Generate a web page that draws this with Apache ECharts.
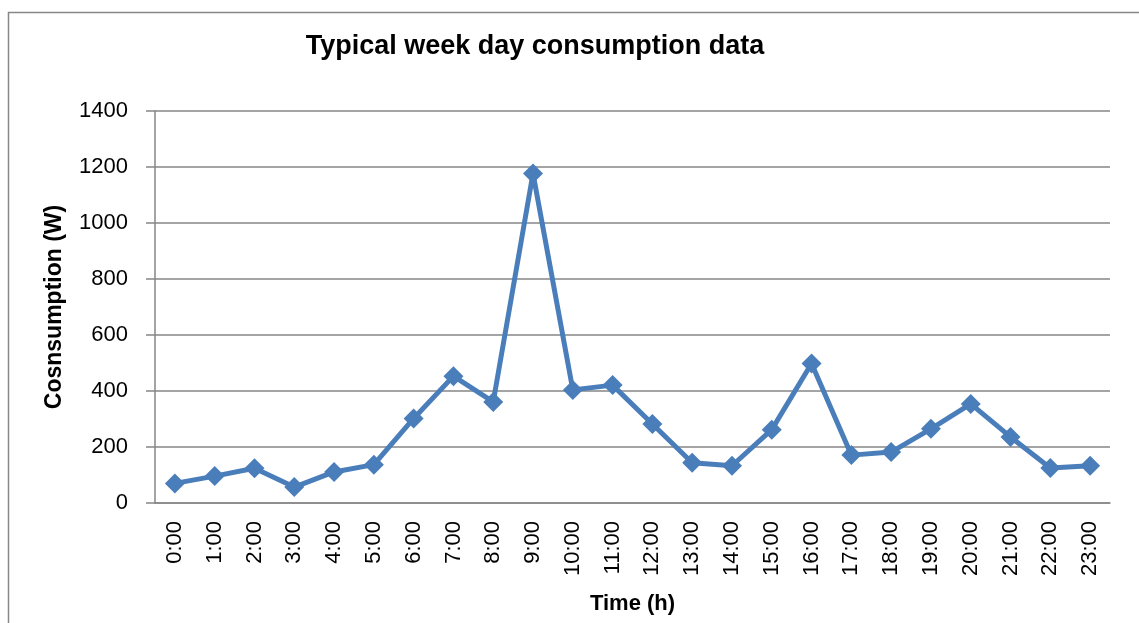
<!DOCTYPE html>
<html>
<head>
<meta charset="utf-8">
<script src="https://cdn.jsdelivr.net/npm/echarts@6/dist/echarts.min.js"></script>
<style>
html,body{margin:0;padding:0;background:#fff;}
#chart{width:1139px;height:623px;}
</style>
</head>
<body>
<div id="chart"></div>
<script>
const categories = ["0:00","1:00","2:00","3:00","4:00","5:00","6:00","7:00","8:00","9:00","10:00","11:00","12:00","13:00","14:00","15:00","16:00","17:00","18:00","19:00","20:00","21:00","22:00","23:00"];
const consumption = [70, 96, 124, 57, 111, 137, 302, 453, 361, 1177, 404, 421, 282, 144, 133, 262, 498, 171, 182, 265, 354, 236, 125, 133];
const titleText = "Typical week day consumption data";
const xName = "Time (h)";
const yName = "Cosnsumption (W)";

const chart = echarts.init(document.getElementById('chart'));
chart.setOption({
  animation: false,
  backgroundColor: '#fff',
  graphic: [{
    type: 'rect', left: 6, top: 10, silent: true,
    shape: {width: 1150, height: 640},
    style: {fill: 'none', stroke: '#888', lineWidth: 1.5}
  }],
  title: {
    text: titleText, left: 530, top: 28, textAlign: 'center',
    textStyle: {fontFamily: 'Liberation Sans', fontWeight: 'bold', fontSize: 27, color: '#000'}
  },
  grid: {left: 155, right: 29, top: 111, bottom: 120, containLabel: false},
  xAxis: {
    type: 'category', data: categories, boundaryGap: true,
    name: xName, nameLocation: 'middle', nameGap: 90,
    nameTextStyle: {fontFamily: 'Liberation Sans', fontWeight: 'bold', fontSize: 22, color: '#000'},
    axisLine: {show: true, lineStyle: {color: '#868686', width: 1.5}},
    axisTick: {show: false},
    axisLabel: {rotate: 90, margin: 18, fontFamily: 'Liberation Sans', fontSize: 22, color: '#000'}
  },
  yAxis: {
    type: 'value', min: 0, max: 1400, interval: 200,
    name: yName, nameLocation: 'middle', nameGap: 89, nameRotate: 90,
    nameTextStyle: {fontFamily: 'Liberation Sans', fontWeight: 'bold', fontSize: 23, color: '#000'},
    axisLine: {show: true, lineStyle: {color: '#868686', width: 1.5}},
    axisTick: {show: true, length: 9, lineStyle: {color: '#868686', width: 1.5}},
    axisLabel: {margin: 27, fontFamily: 'Liberation Sans', fontSize: 22, color: '#000',
      formatter: function (v) { return String(v); }},
    splitLine: {show: true, lineStyle: {color: '#868686', width: 1.5}}
  },
  series: [{
    type: 'line', data: consumption,
    symbol: 'diamond', symbolSize: 20,
    lineStyle: {color: '#4a7ebb', width: 5},
    itemStyle: {color: '#4a7ebb'}
  }]
});
</script>
</body>
</html>
